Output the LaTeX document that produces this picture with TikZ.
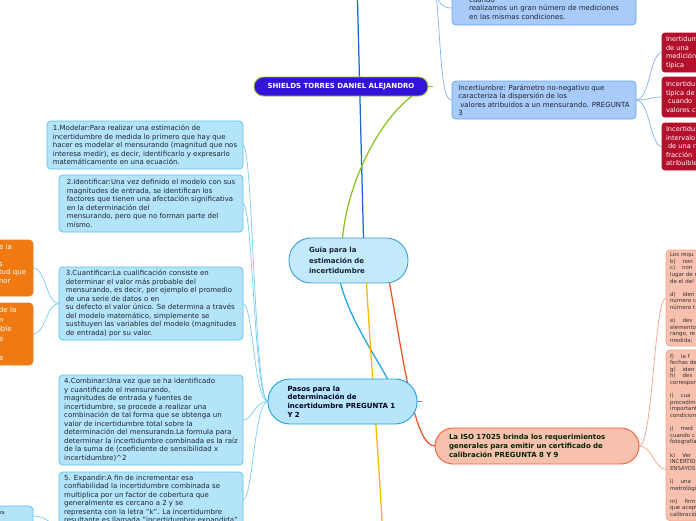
\documentclass[tikz,border=0pt]{standalone}
\usepackage{fontspec}
\setmainfont{DejaVu Sans}
\usetikzlibrary{backgrounds}
\definecolor{lbF}{HTML}{B4E4FA}
\definecolor{lbD}{HTML}{5EC2F0}
\definecolor{bbF}{HTML}{A9CBFA}
\definecolor{bbD}{HTML}{6BA6EE}
\definecolor{guF}{HTML}{C2EAFA}
\definecolor{guD}{HTML}{3C9EDC}
\definecolor{paF}{HTML}{B8E5FA}
\definecolor{paD}{HTML}{1CA2E6}
\definecolor{shF}{HTML}{3312D9}
\definecolor{shD}{HTML}{8CC22A}
\definecolor{isF}{HTML}{F8C0AE}
\definecolor{isD}{HTML}{F0602E}
\definecolor{saD}{HTML}{F6A488}
\definecolor{rdF}{HTML}{B4102C}
\definecolor{orF}{HTML}{EF7A12}
\definecolor{txt}{HTML}{1C2430}
\definecolor{cDark}{HTML}{1C66D2}
\definecolor{cGreen}{HTML}{8CC21E}
\definecolor{cBlue}{HTML}{18A6E8}
\definecolor{cYel}{HTML}{F8B800}
\definecolor{cRed}{HTML}{F05422}
\definecolor{cLb}{HTML}{78CCF2}
\definecolor{cBb}{HTML}{7EB2F2}
\definecolor{cSa}{HTML}{F7A286}
\begin{document}
\begin{tikzpicture}[x=1pt,y=-1pt,
  box/.style={draw, line width=0.8pt, anchor=north west, align=left, inner xsep=4pt, inner ysep=0pt, outer sep=0pt, text=txt, font=\fontsize{7}{8.5}\selectfont},
  lbox/.style={box, fill=lbF, draw=lbD, rounded corners=4pt},
  bbox/.style={box, fill=bbF, draw=bbD, rounded corners=4pt},
  rbox/.style={box, fill=rdF, draw=rdF, text=white, rounded corners=3pt, text width=50pt, font=\fontsize{6.6}{8.5}\selectfont},
  obox/.style={box, fill=orF, draw=orF, text=white, rounded corners=4pt, text width=30pt},
  sbox/.style={box, fill=isF, draw=saD, rounded corners=4pt, text width=60pt, text=black!80, font=\fontsize{5.5}{6.6}\selectfont},
  pill/.style={draw, line width=0.9pt, anchor=north west, align=left, outer sep=0pt, inner ysep=0pt},
  mainline/.style={line width=1.25pt},
  subline/.style={line width=0.7pt}
]
\useasboundingbox (0,0) rectangle (696,520);

\coordinate (topA) at (357,-20);
\coordinate (topB) at (434,-30);
\coordinate (ybot) at (384,560);

% ---------- nodes ----------
\node[pill, fill=shF, draw=shD, text=white, rounded corners=9.5pt, minimum width=174pt, minimum height=19pt, align=center, font=\fontsize{7}{8.5}\bfseries\selectfont] (shields) at (254,77) {SHIELDS TORRES DANIEL ALEJANDRO};

\node[pill, fill=guF, draw=guD, text=txt, rounded corners=22pt, minimum height=45pt, text width=79pt, inner xsep=20pt, font=\fontsize{7}{10.5}\bfseries\selectfont] (guia) at (289,238) {Guía para la\\estimación de\\incertidumbre};

\node[pill, fill=paF, draw=paD, text={black!85!blue}, rounded corners=22pt, minimum height=45pt, text width=110pt, inner xsep=19.5pt, font=\fontsize{7}{8.7}\bfseries\selectfont] (pasos) at (268,379) {Pasos para la\\determinación de\\incertidumbre PREGUNTA 1\\Y 2};

\node[pill, fill=isF, draw=isD, text={black!85!green}, rounded corners=18pt, minimum height=36pt, text width=176pt, inner xsep=14pt, font=\fontsize{7}{9}\bfseries\selectfont] (iso) at (435,428) {La ISO 17025 brinda los requerimientos\\generales para emitir un certificado de\\calibración PREGUNTA 8 Y 9};

\node[bbox, minimum width=184pt, minimum height=34pt] (tb) at (452,-9) {cuando\\realizamos un gran número de mediciones\\en las mismas condiciones.};

\node[bbox, minimum width=184pt, minimum height=38pt] (inc) at (452,81) {Incertiumbre: Parámetro no-negativo que\\caracteriza la dispersión de los\\\hspace*{2pt}valores atribuidos a un mensurando. PREGUNTA\\3};

\node[rbox, minimum height=39pt] (rA) at (662,33) {Inertidum\\de una\\medición\\típica};
\node[rbox, minimum height=40pt] (rB) at (662,77) {Incertidu\\típica de\\\hspace*{2pt}cuando\\valores c};
\node[rbox, minimum height=47pt] (rC) at (662,123) {Incertidu\\intervalo\\\hspace*{2pt}de una r\\fracción\\atribuible};

\node[lbox, minimum width=196pt, minimum height=48pt] (m1) at (47,121) {1.Modelar:Para realizar una estimación de\\incertidumbre de medida lo primero que hay que\\hacer es modelar el mensurando (magnitud que nos\\interesa medir), es decir, identificarlo y expresarlo\\matemáticamente en una ecuación.};
\node[lbox, minimum width=184pt, minimum height=57pt] (m2) at (59,175) {2.Identificar:Una vez definido el modelo con sus\\magnitudes de entrada, se identifican los\\factores que tienen una afectación significativa\\en la determinación del\\mensurando, pero que no forman parte del\\mismo.};
\node[lbox, minimum width=184pt, minimum height=73pt] (m3) at (59,267) {3.Cuantificar:La cualificación consiste en\\determinar el valor más probable del\\mensurando, es decir, por ejemplo el promedio\\de una serie de datos o en\\su defecto el valor único. Se determina a través\\del modelo matemático, simplemente se\\sustituyen las variables del modelo (magnitudes\\de entrada) por su valor.};
\node[lbox, minimum width=184pt, minimum height=90pt] (m4) at (59,375) {4.Combinar:Una vez que se ha identificado\\y cuantificado el mensurando,\\magnitudes de entrada y fuentes de\\incertidumbre, se procede a realizar una\\combinación de tal forma que se obtenga un\\valor de incertidumbre total sobre la\\determinación del mensurando.La formula para\\determinar la incertidumbre combinada es la raíz\\de la suma de (coeficiente de sensibilidad x\\incertidumbre)\^{}2};
\node[lbox, minimum width=184pt, inner ysep=3pt] (m5) at (59,472) {5. Expandir:A fin de incrementar esa\\confiabilidad la incertidumbre combinada se\\multiplica por un factor de cobertura que\\generalmente es cercano a 2 y se\\representa con la letra "k". La incertidumbre\\resultante es llamada "incertidumbre expandida"};

\node[obox, minimum height=56pt] (o1) at (-5,240) {e la\\\mbox{}\\s\\tud que\\nor\\\mbox{}};
\node[obox, minimum height=62pt, font=\fontsize{7}{9.5}\selectfont] (o2) at (-5,303) {de la\\n\\ible\\e\\\mbox{}\\e};
\node[lbox, text width=30pt, minimum height=20pt, font=\fontsize{5.2}{6.6}\selectfont] (sm) at (-5,506) {za\\\mbox{}};

\node[sbox, minimum height=96pt] (s1) at (666,250) {Los requ\\b)\hspace{7pt}non\\c)\hspace{7pt}non\\lugar de r\\de el del\\\mbox{}\\d)\hspace{7pt}iden\\número c\\número t\\\mbox{}\\e)\hspace{7pt}des\\elementos\\rango, re\\medida;};
\node[sbox, inner ysep=4pt] (s2) at (666,350) {f)\hspace{7pt}la f\\fechas de\\g)\hspace{7pt}iden\\h)\hspace{7pt}des\\correspor\\\mbox{}\\i)\hspace{7pt}cua\\procedim\\important\\condicion\\\mbox{}\\j)\hspace{7pt}med\\cuando c\\fotografía\\\mbox{}\\k)\hspace{7pt}Ver\\INCERTID\\ENSAYOS\\\mbox{}\\l)\hspace{7pt}una\\metrológi\\\mbox{}\\m)\hspace{7pt}firm\\que acept\\calibració};

% ---------- connectors (behind nodes) ----------
\begin{pgfonlayer}{background}
\fill[white] (0,0) rectangle (696,520);
\draw[cDark, mainline] (topA) .. controls (360,100) and (362,180) .. ([xshift=15pt]guia.north);
\draw[cGreen, mainline] ([xshift=-6pt]guia.north) .. controls (348,180) and (380,120) .. ([xshift=-16pt]shields.south east);
\draw[cGreen, mainline] (shields.east) -- ++(5,0);
\draw[cBlue, mainline] ([xshift=-8pt]guia.south) .. controls (350,320) and (375,355) .. ([xshift=45pt]pasos.north);
\draw[cBlue, mainline] (pasos.east) -- ++(5,0);
\draw[cYel, mainline] ([xshift=18pt]guia.south) .. controls (372,380) and (380,470) .. (ybot);
\draw[cRed, mainline] ([xshift=41pt]guia.south) .. controls (405,370) and (415,446) .. (iso.west);

\foreach \n in {m1,m2,m3,m4,m5}
  \draw[cLb, subline] (pasos.west) .. controls +(-14,0) and +(10,0) .. (\n.east);
\draw[cLb, subline] (m3.west) .. controls +(-13,0) and +(13,0) .. (o1.east);
\draw[cLb, subline] (m3.west) .. controls +(-13,0) and +(13,0) .. (o2.east);
\draw[cLb, subline] ([yshift=4pt]m5.south west) .. controls +(-13,0) and +(13,0) .. (sm.east);

\draw[cBb, subline] (topB) .. controls (436,-5) and (436,8) .. (tb.west);
\draw[cBb, subline] (topB) .. controls (442,50) and (440,100) .. (inc.west);
\foreach \n in {rA,rB,rC}
  \draw[cBb, subline] (inc.east) .. controls +(14,0) and +(-12,0) .. (\n.west);

\draw[cSa, subline] (iso.east) .. controls +(14,0) and +(-12,0) .. (s1.west);
\draw[cSa, subline] (iso.east) .. controls +(14,0) and +(-12,0) .. ([yshift=-34pt]s2.west);
\end{pgfonlayer}
\end{tikzpicture}
\end{document}
